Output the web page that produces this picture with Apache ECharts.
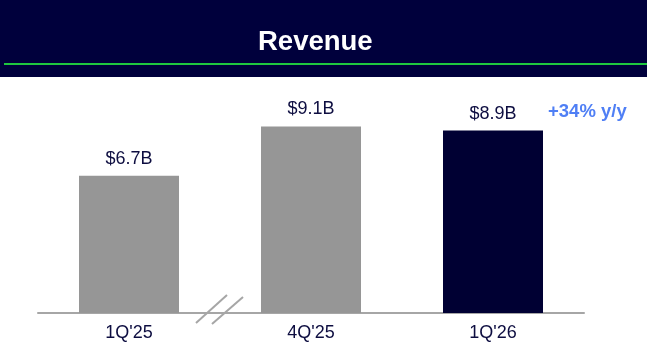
<!DOCTYPE html>
<html>
<head>
<meta charset="utf-8">
<script src="https://cdn.jsdelivr.net/npm/echarts@6/dist/echarts.min.js"></script>
<style>
  html, body { margin: 0; padding: 0; background: #fff; }
  #main { width: 647px; height: 354px; }
</style>
</head>
<body>
<div id="main"></div>
<script>
var categories = ['1Q\'25', '4Q\'25', '1Q\'26'];
var revenue = [6.7, 9.1, 8.9];
var barColors = ['#969696', '#969696', '#000033'];
var growthNote = '+34% y/y';

var myChart = echarts.init(document.getElementById('main'));

var barData = [];
for (var i = 0; i < revenue.length; i++) {
    barData.push({ value: revenue[i], itemStyle: { color: barColors[i] } });
}

option = {
    animation: false,
    backgroundColor: '#fff',
    title: {
        text: 'Revenue',
        left: 253,
        top: 23,
        textStyle: { color: '#fff', fontSize: 27.5, fontWeight: 'bold', fontFamily: 'Liberation Sans' }
    },
    grid: { left: 38, right: 63, top: 108, bottom: 41 },
    xAxis: {
        type: 'category',
        data: categories,
        axisLine: { lineStyle: { color: '#a6a6a6', width: 2 } },
        axisTick: { show: false },
        axisLabel: { color: '#0d0d40', fontSize: 18, fontFamily: 'Liberation Sans', margin: 11 }
    },
    yAxis: {
        type: 'value',
        min: 0,
        max: 10,
        show: false,
        splitLine: { show: false }
    },
    graphic: [
        { type: 'rect', shape: { x: 0, y: 0, width: 647, height: 77 }, style: { fill: '#00003c' }, z: -1 },
        { type: 'rect', shape: { x: 4, y: 63, width: 643, height: 2 }, style: { fill: '#1fc73f' }, z: 0 },
        { type: 'line', shape: { x1: 196, y1: 323, x2: 227, y2: 295 }, style: { stroke: '#a6a6a6', lineWidth: 2 } },
        { type: 'line', shape: { x1: 212, y1: 324, x2: 243, y2: 297 }, style: { stroke: '#a6a6a6', lineWidth: 2 } },
        {
            type: 'text', left: 548, top: 102,
            style: { text: growthNote, fill: '#4f7ff5', fontSize: 18.5, fontWeight: 'bold', fontFamily: 'Liberation Sans' }
        }
    ],
    series: [
        {
            type: 'bar',
            barWidth: 100,
            data: barData,
            label: {
                show: true,
                position: 'top',
                distance: 8,
                color: '#0d0d40',
                fontSize: 18,
                fontFamily: 'Liberation Sans',
                formatter: function (p) { return '$' + p.value.toFixed(1) + 'B'; }
            }
        }
    ]
};

myChart.setOption(option);
</script>
</body>
</html>
